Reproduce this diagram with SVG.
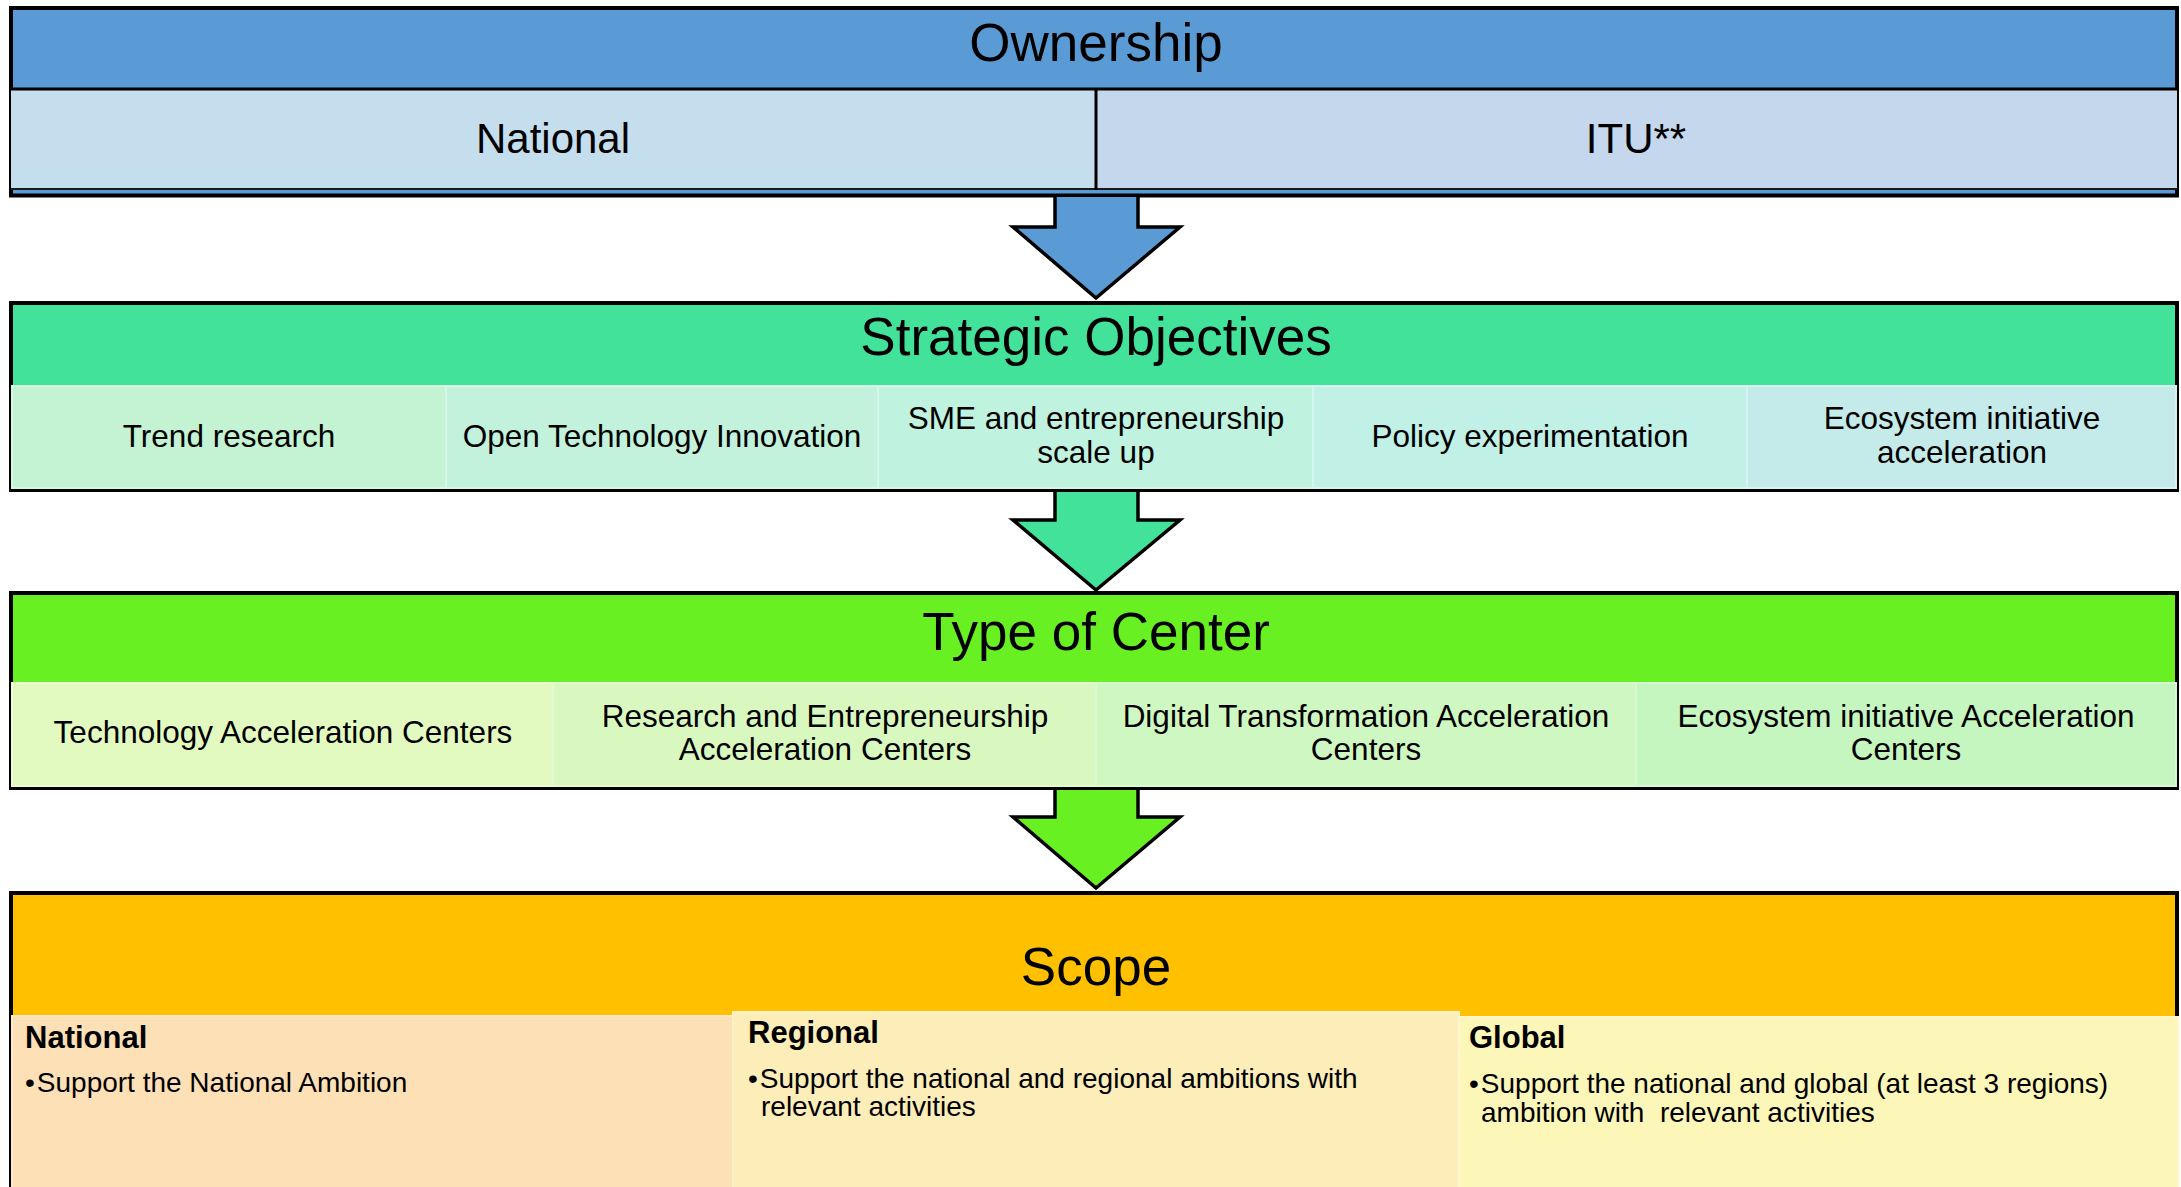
<svg xmlns="http://www.w3.org/2000/svg" width="2181" height="1187" viewBox="0 0 2181 1187">
<style>
text{font-family:"Liberation Sans",Arial,sans-serif;fill:#000}
.title{font-size:53px;text-anchor:middle}
.own{font-size:42px;text-anchor:middle}
.cell{font-size:31.5px;text-anchor:middle}
.head{font-size:31px;font-weight:bold}
.body{font-size:28px}
.box{stroke:#000;stroke-width:4}
.sub{stroke-width:2}
.arrow{stroke:#000;stroke-width:3.5;stroke-linejoin:miter}
</style>
<rect width="2181" height="1187" fill="#fff"/>
<g id="ownership">
<rect class="box" x="11" y="8" width="2166" height="187.5" fill="#5B9BD5"/>
<rect x="11" y="90" width="1085" height="98" fill="#C5DEEE"/>
<rect x="1096" y="90" width="1081" height="98" fill="#C5D7EC"/>
<line x1="11" y1="89" x2="2177" y2="89" stroke="#000" stroke-width="3"/>
<line x1="11" y1="189" x2="2177" y2="189" stroke="#1a1a1a" stroke-width="2"/>
<line x1="1096" y1="89" x2="1096" y2="190" stroke="#000" stroke-width="3"/>
<text class="title" x="1096" y="61">Ownership</text>
<text class="own" x="553" y="153">National</text>
<text class="own" x="1636" y="153">ITU**</text>
</g>
<g id="strategic">
<rect class="box" x="11" y="303" width="2166" height="187" fill="#42E29B"/>
<rect class="sub" x="12" y="386" width="434" height="102" fill="#C4F3D3" stroke="#D6F7E2"/>
<rect class="sub" x="446" y="386" width="432" height="102" fill="#C2F2DB" stroke="#D6F7E6"/>
<rect class="sub" x="878" y="386" width="435" height="102" fill="#C0F2E0" stroke="#D4F7EA"/>
<rect class="sub" x="1313" y="386" width="434" height="102" fill="#C1F0E6" stroke="#D5F6EE"/>
<rect class="sub" x="1747" y="386" width="429" height="102" fill="#C4EBEA" stroke="#D6F3F2"/>
<text class="title" x="1096" y="355">Strategic Objectives</text>
<text class="cell" x="229" y="447">Trend research</text>
<text class="cell" x="662" y="447">Open Technology Innovation</text>
<text class="cell" x="1096" y="429">SME and entrepreneurship</text>
<text class="cell" x="1096" y="463">scale up</text>
<text class="cell" x="1530" y="447">Policy experimentation</text>
<text class="cell" x="1962" y="429">Ecosystem initiative</text>
<text class="cell" x="1962" y="463">acceleration</text>
</g>
<g id="type">
<rect class="box" x="11" y="593" width="2166" height="195" fill="#68F022"/>
<rect class="sub" x="12" y="683" width="541" height="103" fill="#E2FAC0" stroke="#EBFCD2"/>
<rect class="sub" x="553" y="683" width="543" height="103" fill="#D8F8C0" stroke="#E4FAD2"/>
<rect class="sub" x="1096" y="683" width="540" height="103" fill="#CFF7C1" stroke="#DDF9D2"/>
<rect class="sub" x="1636" y="683" width="540" height="103" fill="#C6F6C0" stroke="#D6F8D2"/>
<text class="title" x="1096" y="650">Type of Center</text>
<text class="cell" x="283" y="743">Technology Acceleration Centers</text>
<text class="cell" x="825" y="727">Research and Entrepreneurship</text>
<text class="cell" x="825" y="760">Acceleration Centers</text>
<text class="cell" x="1366" y="727">Digital Transformation Acceleration</text>
<text class="cell" x="1366" y="760">Centers</text>
<text class="cell" x="1906" y="727">Ecosystem initiative Acceleration</text>
<text class="cell" x="1906" y="760">Centers</text>
</g>
<g id="scope">
<rect class="box" x="11" y="893" width="2166" height="320" fill="#FFC000"/>
<text class="title" x="1096" y="985">Scope</text>
</g>
<g id="scope-national">
<rect class="sub" x="12" y="1016" width="721" height="180" fill="#FDE0B5" stroke="#FDE8C8"/>
<text class="head" x="25" y="1048">National</text>
<text class="body" x="25" y="1092">•<tspan dx="2">Support the National Ambition</tspan></text>
</g>
<g id="scope-regional">
<rect class="sub" x="733" y="1012" width="726" height="184" fill="#FDEDB9" stroke="#FEF2CB"/>
<text class="head" x="748" y="1043">Regional</text>
<text class="body" x="748" y="1088">•<tspan dx="2">Support the national and regional ambitions with</tspan></text>
<text class="body" x="761" y="1116">relevant activities</text>
</g>
<g id="scope-global">
<rect class="sub" x="1459" y="1017" width="719" height="180" fill="#FDF6B9" stroke="#FEF8CC"/>
<text class="head" x="1469" y="1048">Global</text>
<text class="body" x="1469" y="1093">•<tspan dx="2">Support the national and global (at least 3 regions)</tspan></text>
<text class="body" x="1481" y="1122" style="white-space:pre">ambition with  relevant activities</text>
</g>
<g id="connectors">
<path class="arrow" fill="#5B9BD5" d="M1055,197 V227 H1013 L1096,298 L1180,227 H1138 V197"/>
<path class="arrow" fill="#42E29B" d="M1055,492 V520 H1013 L1096,590 L1180,520 H1138 V492"/>
<path class="arrow" fill="#68F022" d="M1055,790 V817 H1013 L1096,888 L1180,817 H1138 V790"/>
</g>
</svg>
